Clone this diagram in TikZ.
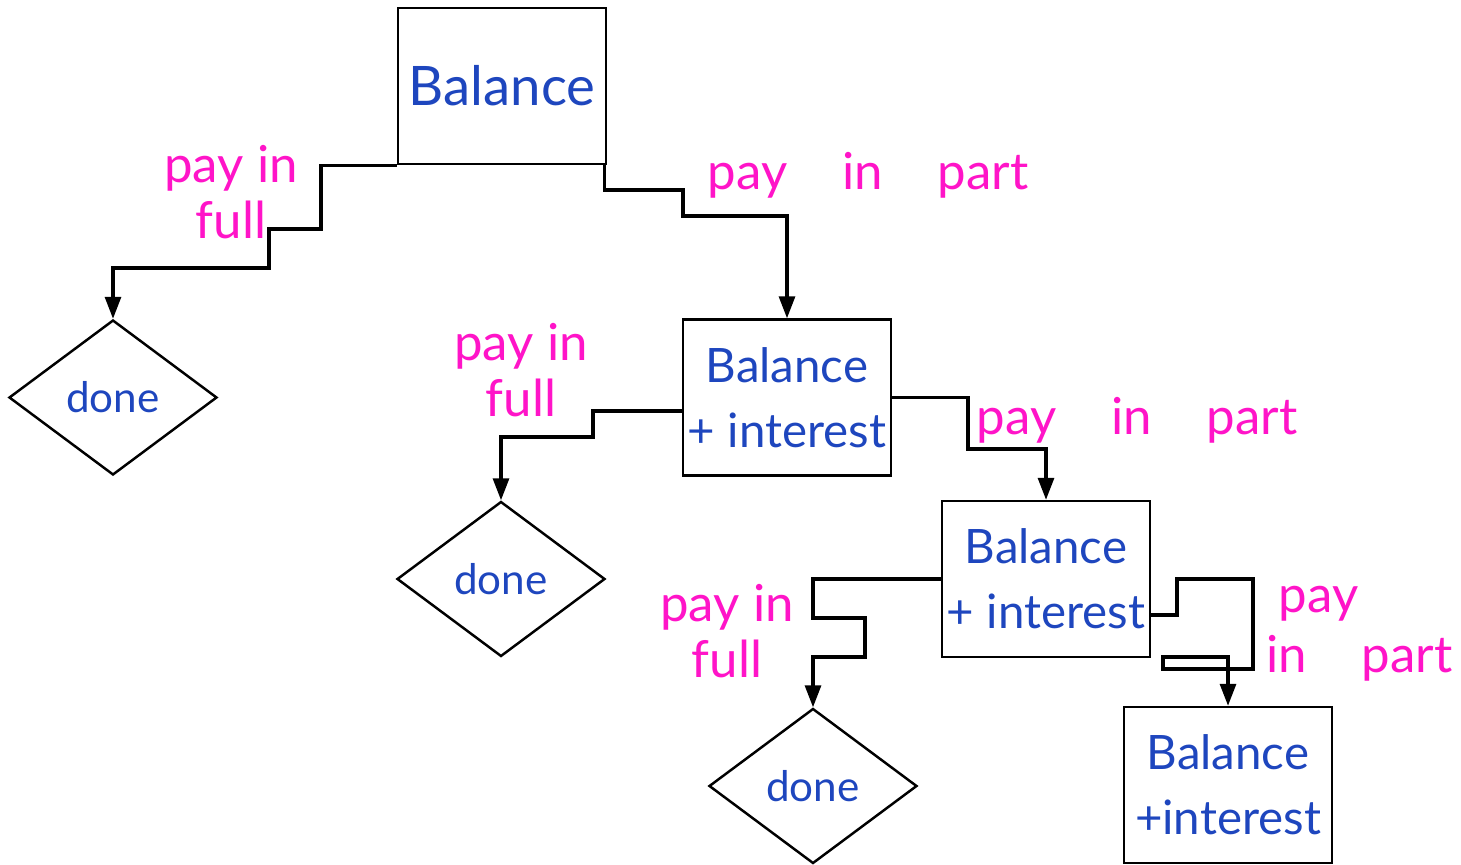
\documentclass[tikz,border=0pt]{standalone}
\usepackage{fontspec}
\setmainfont{Lato}
\newfontfamily\widefont[WordSpace=4.2]{Lato}
\usetikzlibrary{shapes.geometric,arrows.meta}
\definecolor{inkblue}{RGB}{30,70,190}
\definecolor{inkpink}{RGB}{255,20,200}

\begin{document}
\begin{tikzpicture}[box node/.style={rectangle,draw,line width=1.4pt,minimum width=4.16cm,minimum height=3.12cm,inner sep=0pt,text=inkblue,align=center,font=\fontsize{27}{37}\selectfont},
  done node/.style={diamond,draw,line width=1.4pt,minimum width=4.16cm,minimum height=3.1cm,inner sep=0pt,text=inkblue,font=\fontsize{24}{28}\selectfont},
  pay label/.style={text=inkpink,align=center,font=\fontsize{29}{32}\selectfont},
  flow/.style={line width=1.8pt,-{Triangle[width=0.32cm,length=0.44cm]}}]

  \useasboundingbox (0,0) rectangle (29.22,17.28);

  \node[box node,font=\fontsize{31}{36}\selectfont] (b0) at (10.04,15.56) {Balance};
  \node[box node] (b1) at (15.74,9.33) {Balance\\+ interest};
  \node[box node] (b2) at (20.92,5.70) {Balance\\+ interest};
  \node[box node] (b3) at (24.56,1.58) {Balance\\+interest};

  \node[done node] (d0) at (2.26,9.33) {done};
  \node[done node] (d1) at (10.02,5.70) {done};
  \node[done node] (d2) at (16.26,1.56) {done};

  \node[pay label] (l0) at (4.62,13.44) {pay in\\full};
  \node[pay label,font=\fontsize{29}{32}\widefont] (l1) at (17.36,13.78) {pay in part};
  \node[pay label] (l2) at (10.42,9.88) {pay in\\full};
  \node[pay label,font=\fontsize{29}{32}\widefont] (l3) at (22.74,8.88) {pay in part};
  \node[pay label] (l4) at (14.54,4.66) {pay in\\full};
  \node[pay label,align=left,anchor=west,font=\fontsize{29}{34}\widefont] (l5) at (25.2,4.6) {\hspace{0.25cm}pay\\in part};

  \draw[flow] (b0.south west) -| (6.42,12.7) -| (5.38,11.92) -| (d0.north);
  \draw[flow] ([xshift=-0.06cm]b0.south east) |- (13.66,13.48) |- (15.74,12.96) -- (b1.north);
  \draw[flow] ([yshift=-0.27cm]b1.west) -| (11.86,8.54) -| (d1.north);
  \draw[flow] (b1.east) -| (19.36,8.3) -| (b2.north);
  \draw[flow] (b2.west) -| (16.26,4.92) -| (17.3,4.14) -| (d2.north);
  \draw[flow] ([yshift=-0.72cm]b2.east) -| (23.54,5.7) -| (25.06,3.9) -| (23.26,4.14) -| (b3.north);

\end{tikzpicture}
\end{document}
